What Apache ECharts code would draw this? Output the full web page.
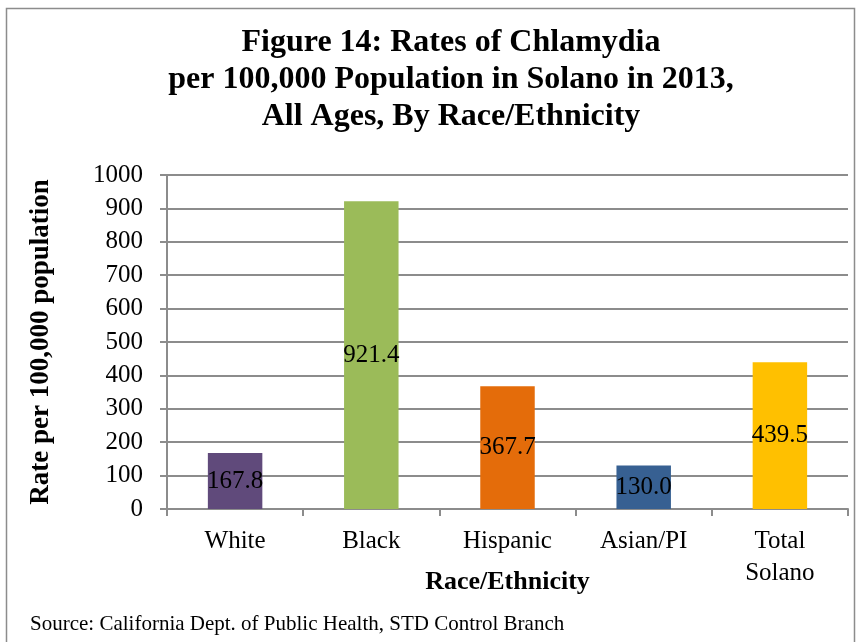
<!DOCTYPE html>
<html>
<head>
<meta charset="utf-8">
<script src="https://cdn.jsdelivr.net/npm/echarts@6/dist/echarts.min.js"></script>
<style>
  html, body { margin: 0; padding: 0; background: #fff; }
  #chart { width: 861px; height: 642px; }
</style>
</head>
<body>
<div id="chart"></div>
<script>
// Chlamydia rates per 100,000 by race/ethnicity, Solano 2013
const categories = ['White', 'Black', 'Hispanic', 'Asian/PI', 'Total\nSolano'];
const rates = [167.8, 921.4, 367.7, 130.0, 439.5];
const barColors = ['#604A7B', '#9BBB59', '#E46C0A', '#376092', '#FFC000'];
const yTicks = { min: 0, max: 1000, interval: 100 };

const serif = '"Liberation Serif", "Times New Roman", serif';
const gridColor = '#8c8c8c';

const chart = echarts.init(document.getElementById('chart'), null, { renderer: 'canvas' });

chart.setOption({
  backgroundColor: '#fff',
  animation: false,
  title: {
    text: 'Figure 14: Rates of Chlamydia\nper 100,000 Population in Solano in 2013,\nAll Ages, By Race/Ethnicity',
    left: 446,
    textAlign: 'center',
    top: 19,
    textStyle: {
      fontFamily: serif,
      fontWeight: 'bold',
      fontSize: 32,
      lineHeight: 37,
      color: '#000'
    }
  },
  graphic: [
    {
      type: 'rect',
      shape: { x: 6.5, y: 8.5, width: 848, height: 660 },
      style: { fill: 'none', stroke: '#8c8c8c', lineWidth: 1.5 },
      silent: true
    },
    {
      type: 'text',
      left: 30,
      top: 614,
      style: {
        text: 'Source: California Dept. of Public Health, STD Control Branch',
        font: '21px ' + serif,
        fill: '#000'
      }
    }
  ],
  grid: { left: 167, right: 13, top: 175, bottom: 133, containLabel: false },
  xAxis: {
    type: 'category',
    data: categories,
    name: 'Race/Ethnicity',
    nameLocation: 'middle',
    nameGap: 60,
    nameMoveOverlap: false,
    nameTextStyle: { fontFamily: serif, fontWeight: 'bold', fontSize: 26, color: '#000' },
    axisLine: { lineStyle: { color: gridColor, width: 2 } },
    axisTick: { show: true, length: 7, alignWithLabel: false, lineStyle: { color: gridColor, width: 2 } },
    axisLabel: {
      fontFamily: serif, fontSize: 25, color: '#000', margin: 16, lineHeight: 32,
      verticalAlign: 'top'
    },
    splitLine: { show: false }
  },
  yAxis: {
    type: 'value',
    min: yTicks.min,
    max: yTicks.max,
    interval: yTicks.interval,
    name: 'Rate per 100,000 population',
    nameLocation: 'middle',
    nameGap: 112,
    nameMoveOverlap: false,
    nameTextStyle: { fontFamily: serif, fontWeight: 'bold', fontSize: 27, color: '#000' },
    axisLine: { show: true, lineStyle: { color: gridColor, width: 2 } },
    axisTick: { show: true, length: 7, lineStyle: { color: gridColor, width: 2 } },
    axisLabel: { fontFamily: serif, fontSize: 25, color: '#000', margin: 24, formatter: v => String(v) },
    splitLine: { show: true, lineStyle: { color: gridColor, width: 2 } }
  },
  series: [{
    type: 'bar',
    barWidth: '40%',
    data: rates.map((v, i) => ({ value: v, itemStyle: { color: barColors[i] } })),
    label: {
      show: true,
      position: 'inside',
      formatter: p => p.value.toFixed(1),
      fontFamily: serif,
      fontSize: 25,
      color: '#000'
    }
  }]
});
</script>
</body>
</html>
